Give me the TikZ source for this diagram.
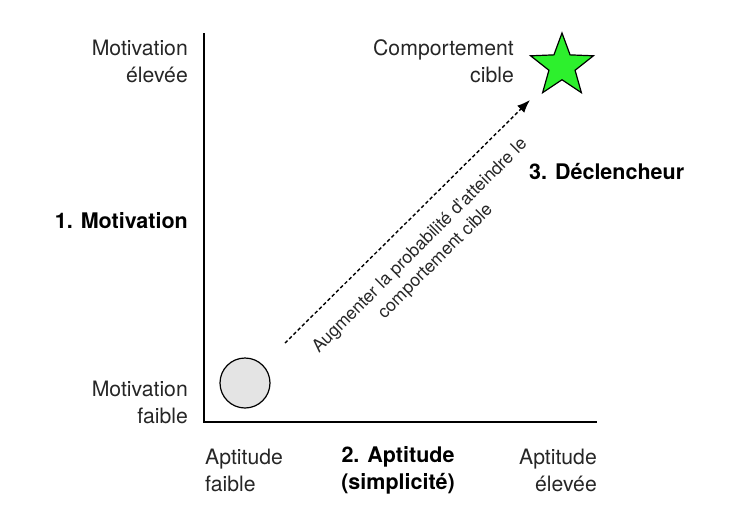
\documentclass[tikz,border=0pt]{standalone}
\usepackage{fontspec}
\setmainfont{TeX Gyre Heros}
\usetikzlibrary{arrows.meta,shapes.geometric}
\definecolor{stargreen}{RGB}{45,240,45}
\definecolor{dotgray}{RGB}{228,228,228}
\tikzset{
  lbl/.style={font=\fontsize{21.2}{27}\selectfont, inner sep=0pt, text=black!85},
  blbl/.style={font=\fontsize{21.5}{27}\selectfont\bfseries, inner sep=0pt},
  axis/.style={line width=1.8pt},
  dasharrow/.style={line width=1.4pt, dash pattern=on 3.5pt off 2.5pt, -{Latex[length=13pt,width=10pt]}},
}
\begin{document}
\begin{tikzpicture}[x=1pt,y=-1pt]
\path[use as bounding box] (0,0) rectangle (748,509);
% axes
\coordinate (top) at (204,33);
\coordinate (origin) at (204,422);
\coordinate (right) at (597,422);
\draw[axis] (top) -- (origin) -- (right);
% circle and star
\node[circle, draw, line width=1.2pt, fill=dotgray, minimum size=50pt, inner sep=0pt] (low) at (245,383) {};
\node[star, star points=5, star point ratio=2.4, draw, line width=1.2pt, fill=stargreen, minimum size=66pt, inner sep=0pt] (goal) at (562,66) {};
% arrow
\coordinate (a0) at (285,343);
\coordinate (a1) at (530,100);
\draw[dasharrow] (a0) -- (a1);
\node[lbl, rotate=45, align=center, font=\fontsize{17.6}{22}\selectfont] (prob) at (428,254) {Augmenter la probabilité d'atteindre le\\comportement cible};
% labels
\node[lbl, align=right, anchor=east] (mhigh) at (188,61) {Motivation\\élevée};
\node[blbl, anchor=east] (mot) at (188,221) {1. Motivation};
\node[lbl, align=right, anchor=east] (mlow) at (188,402) {Motivation\\faible};
\node[lbl, align=right, anchor=east] (target) at (514,61) {Comportement\\cible};
\node[blbl, anchor=west] (trig) at (529,172) {3. Déclencheur};
\node[lbl, align=left, anchor=west] (alow) at (205,470) {Aptitude\\faible};
\node[blbl, align=center] (apt) at (398,470) {2. Aptitude\\(simplicité)};
\node[lbl, align=right, anchor=east] (ahigh) at (597,470) {Aptitude\\élevée};
\end{tikzpicture}
\end{document}
